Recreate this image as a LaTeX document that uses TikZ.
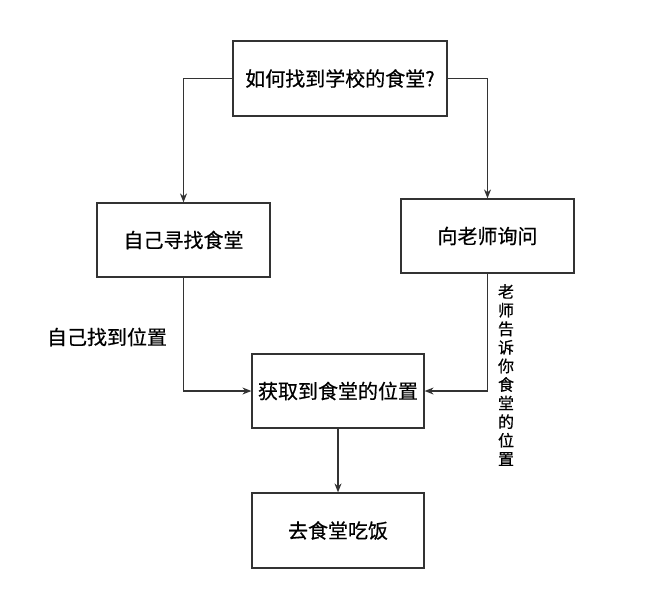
\documentclass[tikz,border=0pt]{standalone}
\usepackage{fontspec}
\setmainfont{Noto Sans CJK SC}[FakeBold=0.5]
\usepackage{tikz}
\usetikzlibrary{arrows.meta,positioning,calc}

\begin{document}
\begin{tikzpicture}[x=1pt, y=-1pt,
    every node/.style={font=\fontsize{20pt}{22pt}\selectfont},
    box/.style={draw=black!80, line width=1.2pt, inner sep=0pt, minimum width=173pt, minimum height=74pt},
    arr/.style={draw=black!80, line width=1.2pt, -{Stealth[length=9pt,width=7pt]}}]
  \useasboundingbox (0,0) rectangle (650,600);
  % boxes
  \node[box, minimum width=214pt, minimum height=75pt] (ask0) at (340,78.5) {如何找到学校的食堂?};
  \node[box] (self) at (183.5,240) {自己寻找食堂};
  \node[box] (teacher) at (487.5,236) {向老师询问};
  \node[box, minimum width=172pt] (pos) at (338,391) {获取到食堂的位置};
  \node[box, minimum width=172pt, minimum height=75pt] (eat) at (338,530.5) {去食堂吃饭};
  % edge labels
  \node (lblself) at (107,337) {自己找到位置};
  \node[font=\fontsize{16pt}{18.6pt}\selectfont, align=center, inner sep=0pt] (lblteacher) at (506,375)
    {老\\师\\告\\诉\\你\\食\\堂\\的\\位\\置};
  % connectors
  \draw[arr] (ask0.west) -| (self.north);
  \draw[arr] (ask0.east) -| (teacher.north);
  \draw[arr] (self.south) |- (pos.west);
  \draw[arr] (teacher.south) |- (pos.east);
  \draw[arr] (pos) -- (eat);
\end{tikzpicture}
\end{document}
